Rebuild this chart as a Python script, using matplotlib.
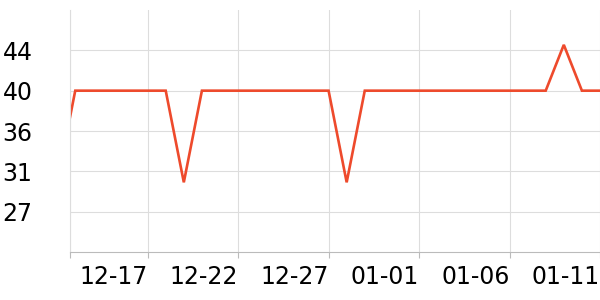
import numpy as np
import pandas as pd
import matplotlib
matplotlib.use("Agg")
import matplotlib.pyplot as plt
import matplotlib.dates as mdates

plt.rcParams["font.family"] = ["DejaVu Sans"]

# 数据：每日数值
dates = pd.date_range("2023-12-12", "2024-01-11", freq="D")
values = [30, 40, 40, 40, 40, 40, 40, 30, 40, 40,
          40, 40, 40, 40, 40, 40, 30, 40, 40, 40,
          40, 40, 40, 40, 40, 40, 40, 40, 45, 40,
          40]
tick_dates = pd.to_datetime(["2023-12-17", "2023-12-22", "2023-12-27",
                             "2024-01-01", "2024-01-06", "2024-01-11"])
y_ticks = [26.8, 31.2, 35.6, 40.0, 44.4]

fig = plt.figure(figsize=(6, 3), dpi=100)
ax = fig.add_axes([70 / 600, (300 - 252) / 300, 530 / 600, 242 / 300])

ax.plot(dates, values, color="#EE4A2C", linewidth=1.9, solid_joinstyle="miter")

x0 = mdates.date2num(pd.Timestamp("2023-12-12")) + 0.71
x1 = mdates.date2num(pd.Timestamp("2024-01-11"))
ax.set_xlim(x0, x1)
ax.set_ylim(22.4, 48.8)

ax.set_xticks([x0] + list(mdates.date2num(tick_dates)))
ax.set_xticklabels([""] + [d.strftime("%m-%d") for d in tick_dates],
                   ha="right", fontsize=17)
ax.set_yticks(y_ticks)
ax.set_yticklabels([f"{v:.0f}" for v in y_ticks], fontsize=17)

ax.tick_params(axis="x", length=4, color="#bbbbbb", pad=5)
ax.tick_params(axis="y", length=0, pad=27)

ax.grid(True, color="#dddddd", linewidth=0.8)
ax.set_axisbelow(True)
for side in ["top", "right"]:
    ax.spines[side].set_visible(False)
ax.spines["left"].set_color("#dddddd")
ax.spines["left"].set_linewidth(0.8)
ax.spines["bottom"].set_color("#bbbbbb")
ax.spines["bottom"].set_linewidth(0.8)

fig.savefig("out.png", dpi=100)
